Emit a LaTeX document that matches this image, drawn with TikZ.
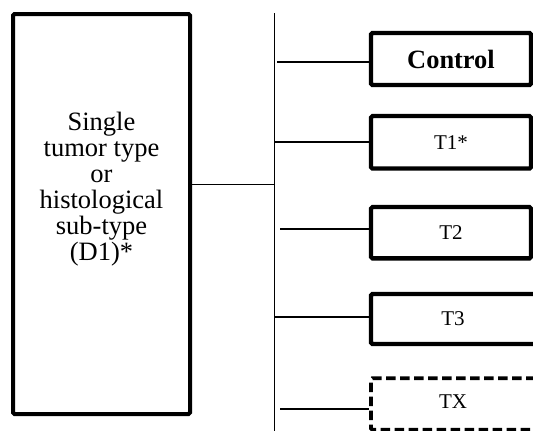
\documentclass[tikz,border=0pt]{standalone}
\usepackage{fontspec}
\setmainfont{Liberation Serif}
\begin{document}
\begin{tikzpicture}[x=1pt,y=1pt,
  bigbox/.style={draw=black, line width=4pt, rounded corners=1.5pt, inner sep=0pt},
  armbox/.style={draw=black, line width=4.3pt, rounded corners=1.5pt, inner sep=0pt, font=\fontsize{21}{24}\selectfont},
  dashbox/.style={draw=black, line width=3.8pt, dash pattern=on 9.5pt off 4.5pt, rounded corners=1.5pt, inner sep=0pt},
  lbl/.style={font=\fontsize{21}{24}\selectfont},
  link/.style={draw=black, line width=1.4pt}]
\useasboundingbox (0,0) rectangle (533,-431);
\clip (0,0) rectangle (533,-431);
% left box
\node[bigbox, minimum width=177pt, minimum height=400pt] (L) at (101.5,-214) {};
\node[align=center, font=\fontsize{26.5}{26}\selectfont] (Ltext) at (101.5,-189)
  {Single\\tumor type\\or\\histological\\sub-type\\(D1)*};
% spine
\coordinate (stop) at (274.5,-13);
\coordinate (sbot) at (274.5,-436);
\draw[link] (stop) -- (sbot);
\coordinate (j0) at (274.5,-184.3);
\draw[link] (j0 -| L.east) -- (j0);
% right boxes
\node[armbox, minimum width=160pt, minimum height=52pt, font=\fontsize{26.4}{28}\selectfont\bfseries] (ctrl) at (451,-59) {Control};
\node[armbox, minimum width=160pt, minimum height=52.5pt] (t1) at (451,-142.3) {T1*};
\node[armbox, minimum width=160pt, minimum height=51.3pt] (t2) at (451,-232.7) {T2};
\node[armbox, minimum width=180pt, minimum height=50pt] (t3) at (461,-319) {};
\node[lbl] (t3l) at (453,-319) {T3};
\node[dashbox, minimum width=180pt, minimum height=51.7pt] (tx) at (461,-404) {};
\node[lbl] (txl) at (453,-402) {TX};
% connectors
\coordinate (c0) at (277,-62);
\coordinate (c1) at (274.5,-142);
\coordinate (c2) at (280,-229);
\coordinate (c3) at (274.5,-317);
\coordinate (c4) at (280,-409);
\draw[link] (c0) -- (c0 -| ctrl.west);
\draw[link] (c1) -- (c1 -| t1.west);
\draw[link] (c2) -- (c2 -| t2.west);
\draw[link] (c3) -- (c3 -| t3.west);
\draw[link] (c4) -- (c4 -| tx.west);
\end{tikzpicture}
\end{document}
